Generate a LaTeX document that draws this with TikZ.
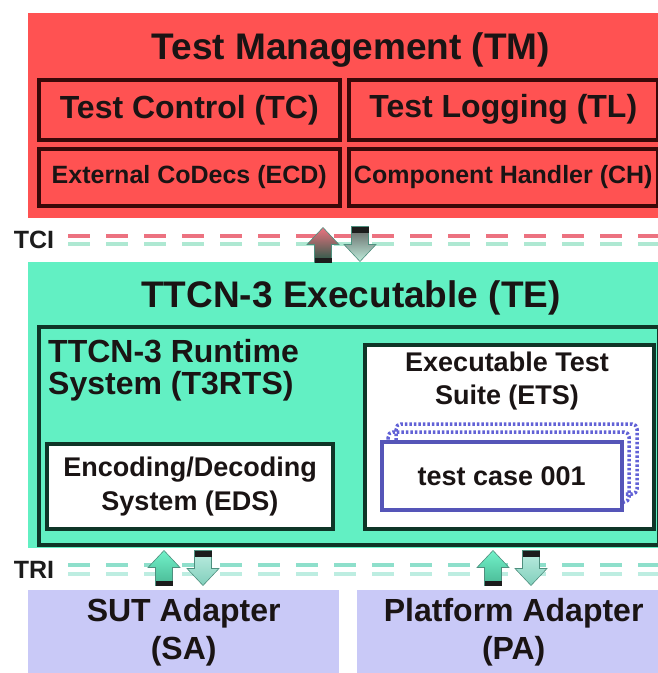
\documentclass[tikz,border=0pt]{standalone}
\usepackage{fontspec}
\setmainfont{Liberation Sans}
\usetikzlibrary{positioning}
\definecolor{tmRed}{HTML}{FF5252}
\definecolor{tmLine}{HTML}{3A0808}
\definecolor{teGreen}{HTML}{62F0C3}
\definecolor{teLine}{HTML}{0F3527}
\definecolor{adLav}{HTML}{C9C9F7}
\definecolor{inkDark}{HTML}{1A1414}
\definecolor{caseBlue}{HTML}{5555B8}
\definecolor{stackBlue}{HTML}{6262D6}
\definecolor{tciRed}{HTML}{EC7280}
\definecolor{tciMint}{HTML}{AEE8D2}
\definecolor{triMint}{HTML}{8EDFCB}
\definecolor{triLight}{HTML}{BDEDE1}
\definecolor{flowBar}{HTML}{1C1C1C}
\definecolor{flowEdge}{HTML}{4E8F7E}
\tikzset{
  panel/.style={draw=none,inner sep=0pt,anchor=north west,text=inkDark,align=center},
  tm box/.style={panel,draw=tmLine,line width=3.5pt,fill=tmRed},
  te frame/.style={panel,draw=teLine,line width=4pt},
  white box/.style={panel,draw=teLine,line width=4pt,fill=white},
  case box/.style={panel,draw=caseBlue,line width=3.5pt,fill=white},
  stack frame/.style={draw=stackBlue,line width=3.5pt,dash pattern=on 2.5pt off 2pt,rounded corners=5pt},
  big title/.style={text=inkDark,inner sep=0pt,font=\fontsize{37}{40}\selectfont\bfseries},
  mid text/.style={text=inkDark,inner sep=0pt,align=center,font=\fontsize{32}{38}\selectfont\bfseries},
  small text/.style={text=inkDark,inner sep=0pt,align=center,font=\fontsize{27}{34}\selectfont\bfseries},
  iface label/.style={text=flowBar,inner sep=0pt,font=\fontsize{25}{25}\selectfont\bfseries},
  tci upper/.style={draw=tciRed,line width=4.5pt,dash pattern=on 22pt off 16pt},
  tci lower/.style={draw=tciMint,line width=4pt,dash pattern=on 22pt off 16pt},
  tri upper/.style={draw=triMint,line width=4.5pt,dash pattern=on 22pt off 16pt},
  tri lower/.style={draw=triLight,line width=4pt,dash pattern=on 22pt off 16pt},
  pics/up flow/.style 2 args={code={
    \shade[top color=#1,bottom color=#2,draw=flowEdge,line width=0.6pt]
      (0,-17.5) -- (16,-0.5) -- (8.5,-0.5) -- (8.5,17.5) -- (-8.5,17.5) -- (-8.5,-0.5) -- (-16,-0.5) -- cycle;
    \fill[flowBar] (-8.5,12.5) rectangle (8.5,17.5);
  }},
  pics/down flow/.style 2 args={code={
    \shade[top color=#1,bottom color=#2,draw=flowEdge,line width=0.6pt]
      (0,17.5) -- (16,0.5) -- (8.5,0.5) -- (8.5,-17.5) -- (-8.5,-17.5) -- (-8.5,0.5) -- (-16,0.5) -- cycle;
    \fill[flowBar] (-8.5,-17.5) rectangle (8.5,-11.5);
  }}
}
\begin{document}
\begin{tikzpicture}[x=1pt,y=-1pt]
\clip (0,0) rectangle (658,673);
\fill[white] (0,0) rectangle (658,673);
% test management
\node[panel,fill=tmRed,minimum width=646,minimum height=205] (tm) at (28,13) {};
\node[big title] (tmtitle) at (351,50) {Test Management (TM)};
\node[tm box,minimum width=301,minimum height=60,font=\fontsize{32}{32}\selectfont\bfseries] (tc) at (37,78) {Test Control (TC)};
\node[tm box,minimum width=309,minimum height=60,font=\fontsize{32}{32}\selectfont\bfseries] (tl) at (347,78) {Test Logging (TL)};
\node[tm box,minimum width=301,minimum height=57,font=\fontsize{25}{25}\selectfont\bfseries] (ecd) at (37,147) {External CoDecs (ECD)};
\node[tm box,minimum width=309,minimum height=57,font=\fontsize{25}{25}\selectfont\bfseries] (ch) at (347,147) {Component Handler (CH)};
% TCI
\node[iface label] (tci) at (34,240) {TCI};
\draw[tci upper] (68,236) -- (660,236);
\draw[tci lower] (68,244) -- (660,244);
% TTCN-3 executable
\node[panel,fill=teGreen,minimum width=646,minimum height=286] (te) at (28,262) {};
\node[big title] (tetitle) at (351,298) {TTCN-3 Executable (TE)};
\node[te frame,minimum width=620,minimum height=218] (rts) at (37,325) {};
\node[mid text,align=left,anchor=west,font=\fontsize{32}{32}\selectfont\bfseries] (rtstext) at (48,370) {TTCN-3 Runtime\\System (T3RTS)};
\node[white box,minimum width=286,minimum height=85,font=\fontsize{27}{34}\selectfont\bfseries] (eds) at (45,442) {Encoding/Decoding\\System (EDS)};
\node[white box,minimum width=289,minimum height=184] (ets) at (363,343) {};
\node[small text,font=\fontsize{27}{33}\selectfont\bfseries] (etstext) at (507,381) {Executable Test\\Suite (ETS)};
\draw[stack frame] (396,424) rectangle (637,494);
\draw[stack frame] (388,432) rectangle (629,502);
\node[case box,minimum width=240,minimum height=68,font=\fontsize{27}{27}\selectfont\bfseries] (case) at (380,440) {test case 001};
\pic at (323,245) {up flow={tciRed}{teLine!80!teGreen}};
\pic at (360,244) {down flow={flowBar!70!white}{tciMint!80!white}};
% TRI
\node[iface label] (tri) at (34,570) {TRI};
\draw[tri upper] (68,565) -- (660,565);
\draw[tri lower] (68,574) -- (660,574);
% adapters
\node[panel,fill=adLav,minimum width=311,minimum height=85,font=\fontsize{32}{38}\selectfont\bfseries] (sa) at (28,590) {SUT Adapter\\(SA)};
\node[panel,fill=adLav,minimum width=313,minimum height=85,font=\fontsize{32}{38}\selectfont\bfseries] (pa) at (357,590) {Platform Adapter\\(PA)};
\pic at (164,568) {up flow={teGreen!90!white}{teGreen!70!teLine}};
\pic at (203,568) {down flow={triLight}{triMint!80!flowEdge}};
\pic at (493,568) {up flow={teGreen!90!white}{teGreen!70!teLine}};
\pic at (531,568) {down flow={triLight}{triMint!80!flowEdge}};
\end{tikzpicture}
\end{document}
